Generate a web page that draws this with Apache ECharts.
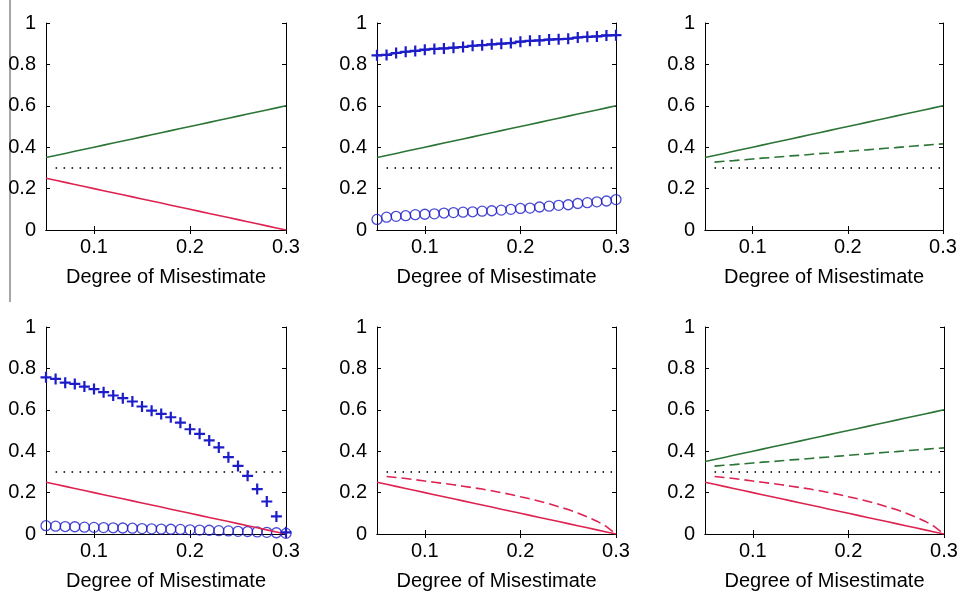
<!DOCTYPE html>
<html><head><meta charset="utf-8">
<script src="https://cdn.jsdelivr.net/npm/echarts@6/dist/echarts.min.js"></script>
<style>html,body{margin:0;padding:0;background:#fff}#c{width:961px;height:595px}</style>
</head><body><div id="c"></div>
<script>
// ---- data ----
const xFull = [0.05,0.06,0.07,0.08,0.09,0.10,0.11,0.12,0.13,0.14,0.15,0.16,0.17,0.18,0.19,0.20,0.21,0.22,0.23,0.24,0.25,0.26,0.27,0.28,0.29,0.30];
const xShort = [0.06,0.07,0.08,0.09,0.10,0.11,0.12,0.13,0.14,0.15,0.16,0.17,0.18,0.19,0.20,0.21,0.22,0.23,0.24,0.25,0.26,0.27,0.28,0.29,0.30];
const greenSolid = [0.35,0.36,0.37,0.38,0.39,0.40,0.41,0.42,0.43,0.44,0.45,0.46,0.47,0.48,0.49,0.50,0.51,0.52,0.53,0.54,0.55,0.56,0.57,0.58,0.59,0.60];
const redSolid = [0.25,0.24,0.23,0.22,0.21,0.20,0.19,0.18,0.17,0.16,0.15,0.14,0.13,0.12,0.11,0.10,0.09,0.08,0.07,0.06,0.05,0.04,0.03,0.02,0.01,0.00];
const greenDashed = [0.328,0.332,0.335,0.339,0.343,0.347,0.350,0.354,0.358,0.361,0.365,0.369,0.372,0.376,0.380,0.384,0.387,0.391,0.395,0.398,0.402,0.406,0.409,0.413,0.416];
const redDashed = [0.278,0.273,0.268,0.262,0.256,0.250,0.244,0.238,0.231,0.224,0.217,0.209,0.200,0.191,0.180,0.170,0.158,0.146,0.132,0.118,0.102,0.083,0.062,0.036,0.000];
const plusTop = [0.844,0.846,0.855,0.861,0.865,0.871,0.875,0.877,0.881,0.884,0.890,0.893,0.897,0.900,0.903,0.910,0.914,0.916,0.920,0.922,0.924,0.930,0.933,0.935,0.940,0.941];
const circleTop = [0.051,0.062,0.066,0.069,0.074,0.076,0.078,0.082,0.084,0.086,0.088,0.091,0.093,0.096,0.100,0.104,0.106,0.111,0.115,0.119,0.122,0.128,0.132,0.136,0.140,0.147];
const plusBottom = [0.757,0.749,0.731,0.725,0.712,0.700,0.685,0.669,0.656,0.640,0.616,0.596,0.580,0.564,0.538,0.506,0.484,0.452,0.418,0.371,0.329,0.281,0.217,0.157,0.085,0.008];
const circleBottom = [0.040,0.038,0.036,0.035,0.033,0.032,0.031,0.030,0.029,0.028,0.026,0.025,0.024,0.023,0.022,0.020,0.019,0.018,0.016,0.015,0.013,0.012,0.010,0.008,0.006,0.003];
const thresholdX = [0.06, 0.30];
const thresholdY = [0.30, 0.30];
const xTicks = [0.1, 0.2, 0.3];
const xTitle = 'Degree of Misestimate';

// ---- styling ----
const GREEN = '#2c7536', RED = '#de2350', BLUE = '#1c1cc8', DOT = '#333';
const FONT = 'Liberation Sans';
const TXT = '#000';
const pair = (xs, ys) => xs.map((x, k) => [x, ys[k]]);
const PLUS = 'path://M4,0 H6 V4 H10 V6 H6 V10 H4 V6 H0 V4 H4 Z';

const grids = [
  {left:46, top:23, width:240, height:207},
  {left:377, top:23, width:239, height:207},
  {left:705, top:23, width:238, height:207},
  {left:46, top:327, width:240, height:207},
  {left:377, top:327, width:239, height:207},
  {left:705, top:327, width:239, height:207}
];
const xAxes = [], yAxes = [];
grids.forEach((g, i) => {
  const base = {type:'value', gridIndex:i, min:0.05, max:0.3, splitLine:{show:false},
    axisLine:{show:true, lineStyle:{color:'#000', width:1}}};
  xAxes.push(Object.assign({}, base, {position:'bottom',
    axisTick:{show:true, inside:true, length:4, customValues:xTicks, lineStyle:{color:'#000'}},
    axisLabel:{show:true, customValues:xTicks, margin:7, color:TXT, fontFamily:FONT, fontSize:20,
      formatter: v => (+v).toFixed(1)},
    name:xTitle, nameLocation:'middle', nameGap:37,
    nameTextStyle:{color:TXT, fontFamily:FONT, fontSize:20}}));
  xAxes.push(Object.assign({}, base, {position:'top',
    axisTick:{show:true, inside:true, length:4, customValues:xTicks, lineStyle:{color:'#000'}},
    axisLabel:{show:false}}));
  const ybase = {type:'value', gridIndex:i, min:0, max:1, interval:0.2, splitLine:{show:false},
    axisLine:{show:true, lineStyle:{color:'#000', width:1}},
    axisTick:{show:true, inside:true, length:4, lineStyle:{color:'#000'}}};
  yAxes.push(Object.assign({}, ybase, {position:'left',
    axisLabel:{show:true, margin:10, color:TXT, fontFamily:FONT, fontSize:20,
      formatter: v => String(+(+v).toFixed(1))}}));
  yAxes.push(Object.assign({}, ybase, {position:'right', axisLabel:{show:false}}));
});

const series = [];
function line(i, xs, ys, color, type, width) {
  series.push({type:'line', xAxisIndex:2*i, yAxisIndex:2*i, data:pair(xs, ys), symbol:'none',
    lineStyle:{color, width: width || 1.6, type: type || 'solid'}, silent:true, animation:false});
}
function dotted(i) {
  series.push({type:'line', xAxisIndex:2*i, yAxisIndex:2*i, data:pair(thresholdX, thresholdY), symbol:'none',
    lineStyle:{color:DOT, width:2, type:[1.5, 6.5]}, silent:true, animation:false});
}
function plus(i, ys, withLine) {
  series.push({type:'line', xAxisIndex:2*i, yAxisIndex:2*i, data:pair(xFull, ys), symbol:PLUS, symbolSize:11,
    showAllSymbol:true, clip:false,
    itemStyle:{color:BLUE}, lineStyle:{color:BLUE, width:withLine ? 2 : 0, opacity: withLine ? 1 : 0},
    silent:true, animation:false});
}
function circles(i, ys) {
  series.push({type:'scatter', xAxisIndex:2*i, yAxisIndex:2*i, data:pair(xFull, ys), symbol:'circle', symbolSize:10,
    clip:false, itemStyle:{color:'rgba(0,0,0,0)', borderColor:BLUE, borderWidth:1.3}, silent:true, animation:false});
}

// panel 1
line(0, xFull, greenSolid, GREEN); line(0, xFull, redSolid, RED); dotted(0);
// panel 2
line(1, xFull, greenSolid, GREEN); dotted(1); plus(1, plusTop, true); circles(1, circleTop);
// panel 3
line(2, xFull, greenSolid, GREEN); line(2, xShort, greenDashed, GREEN, [10, 5]); dotted(2);
// panel 4
line(3, xFull, redSolid, RED); dotted(3); plus(3, plusBottom, false); circles(3, circleBottom);
// panel 5
line(4, xFull, redSolid, RED); line(4, xShort, redDashed, RED, [10, 5]); dotted(4);
// panel 6
line(5, xFull, greenSolid, GREEN); line(5, xShort, greenDashed, GREEN, [10, 5]); dotted(5);
line(5, xFull, redSolid, RED); line(5, xShort, redDashed, RED, [10, 5]);

const chart = echarts.init(document.getElementById('c'));
chart.setOption({
  backgroundColor:'#fff',
  animation:false,
  grid: grids,
  xAxis: xAxes,
  yAxis: yAxes,
  series,
  graphic:[{type:'line', shape:{x1:10, y1:0, x2:10, y2:302}, style:{stroke:'#8a8a8a', lineWidth:1.5}, silent:true}]
});
</script></body></html>
